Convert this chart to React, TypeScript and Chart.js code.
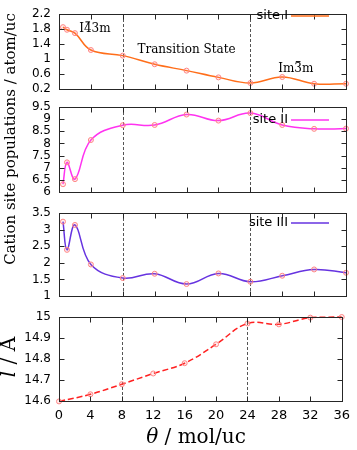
import React, { useEffect, useRef } from "react";
import { Chart, registerables } from "chart.js";

Chart.register(...registerables);

// ---------------- data ----------------
const THETA_SITES = [0.5, 1, 2, 4, 8, 12, 16, 20, 24, 28, 32, 36];
const SITE_I = [1.85, 1.78, 1.69, 1.24, 1.09, 0.86, 0.69, 0.51, 0.36, 0.52, 0.34, 0.34];
const SITE_II = [6.32, 7.22, 6.53, 8.14, 8.75, 8.76, 9.19, 8.94, 9.25, 8.76, 8.6, 8.61];
const SITE_III = [3.24, 2.39, 3.14, 1.95, 1.54, 1.67, 1.36, 1.68, 1.43, 1.61, 1.8, 1.7];
const THETA_CELL = [0, 4, 8, 12, 16, 20, 24, 28, 32, 36];
const CELL_L = [14.598, 14.632, 14.68, 14.731, 14.78, 14.87, 14.969, 14.965, 14.997, 15.0];

const X_TICKS = [0, 4, 8, 12, 16, 20, 24, 28, 32, 36];
const Y_TICKS_I = [0.2, 0.6, 1, 1.4, 1.8, 2.2];
const Y_TICKS_II = [6, 6.5, 7, 7.5, 8, 8.5, 9, 9.5];
const Y_TICKS_III = [1, 1.5, 2, 2.5, 3, 3.5];
const Y_TICKS_L = [14.6, 14.7, 14.8, 14.9, 15];
const PHASE_BOUNDARIES = [8, 24];
// phase labels: [before, barred digit, after]
const PHASE_LABELS: [string, string, string][] = [
  ["I", "4", "3m"],
  ["Transition State", "", ""],
  ["Im", "3", "m"],
];

// ---------------- layout / style ----------------
const W = 357;
const H = 450;
const PLOT_LEFT = 59;
const PLOT_RIGHT = 346;
const SERIF = '"DejaVu Serif", serif';
const SANS = '"DejaVu Sans", sans-serif';
const MARKER = "#ff8585";
const AXIS = "#262626";
// anchors of the phase labels in data units (x, y baseline) – panel I
const PHASE_ANCHORS = [
  [4.5, 1.71],
  [16, 1.16],
  [29.7, 0.65],
];

type PanelCfg = {
  xs: number[];
  ys: number[];
  yTicks: number[];
  label?: string;
  color: string;
  dash: number[];
  top: number;
  bottom: number;
  legendY?: number;
};

const PANELS: PanelCfg[] = [
  { xs: THETA_SITES, ys: SITE_I, yTicks: Y_TICKS_I, label: "site I", color: "#ff6e1a", dash: [], top: 6, bottom: 89, legendY: 16 },
  { xs: THETA_SITES, ys: SITE_II, yTicks: Y_TICKS_II, label: "site II", color: "#ff33f0", dash: [], top: 107, bottom: 192, legendY: 120 },
  { xs: THETA_SITES, ys: SITE_III, yTicks: Y_TICKS_III, label: "site III", color: "#6633e0", dash: [], top: 213, bottom: 296, legendY: 223 },
  { xs: THETA_CELL, ys: CELL_L, yTicks: Y_TICKS_L, color: "#ff2020", dash: [6, 3], top: 317, bottom: 401 },
];

type Part = { text: string; italic?: boolean };

function drawMixed(ctx: CanvasRenderingContext2D, parts: Part[], size: number, x: number, y: number, rotate: boolean) {
  ctx.save();
  ctx.translate(x, y);
  if (rotate) ctx.rotate(-Math.PI / 2);
  ctx.textAlign = "left";
  ctx.textBaseline = "alphabetic";
  ctx.fillStyle = "#000";
  const fontOf = (p: Part) => `${p.italic ? "italic " : ""}${size}px ${SERIF}`;
  const widths = parts.map((p) => {
    ctx.font = fontOf(p);
    return ctx.measureText(p.text).width;
  });
  const total = widths.reduce((a, b) => a + b, 0);
  let cx = -total / 2;
  parts.forEach((p, i) => {
    ctx.font = fontOf(p);
    ctx.fillText(p.text, cx, 0);
    cx += widths[i];
  });
  ctx.restore();
}

function drawPhaseLabel(ctx: CanvasRenderingContext2D, parts: [string, string, string], cx: number, by: number) {
  ctx.save();
  ctx.font = `12px ${SERIF}`;
  ctx.fillStyle = "#000";
  ctx.textAlign = "left";
  ctx.textBaseline = "alphabetic";
  const [a, b, c] = parts;
  const wa = ctx.measureText(a).width;
  const wb = ctx.measureText(b).width;
  const wc = ctx.measureText(c).width;
  let x = cx - (wa + wb + wc) / 2;
  ctx.fillText(a, x, by);
  x += wa;
  if (b) {
    ctx.fillText(b, x, by);
    // overbar (crystallographic bar notation)
    ctx.fillRect(x + 1.5, by - 11, wb - 3, 1);
    x += wb;
  }
  if (c) ctx.fillText(c, x, by);
  ctx.restore();
}

function makePlugin(cfg: PanelCfg, idx: number) {
  return {
    id: "panelDecor" + idx,
    beforeDatasetsDraw(chart: any) {
      const { ctx, chartArea: a, scales } = chart;
      ctx.save();
      ctx.strokeStyle = "#555";
      ctx.lineWidth = 1;
      ctx.setLineDash([3, 2]);
      PHASE_BOUNDARIES.forEach((v) => {
        const px = Math.round(scales.x.getPixelForValue(v)) + 0.5;
        ctx.beginPath();
        ctx.moveTo(px, a.top);
        ctx.lineTo(px, a.bottom);
        ctx.stroke();
      });
      ctx.restore();
    },
    beforeDraw(chart: any) {
      // nothing
    },
    afterDraw(chart: any) {
      const { ctx, chartArea: a, scales } = chart;
      const L = Math.round(a.left) + 0.5;
      const R = Math.round(a.right) + 0.5;
      const T = Math.round(a.top) + 0.5;
      const B = Math.round(a.bottom) + 0.5;
      ctx.save();
      ctx.strokeStyle = AXIS;
      ctx.lineWidth = 1;
      ctx.setLineDash([]);
      ctx.strokeRect(L, T, R - L, B - T);
      const tl = 5;
      ctx.beginPath();
      X_TICKS.forEach((v) => {
        const px = Math.round(scales.x.getPixelForValue(v)) + 0.5;
        ctx.moveTo(px, B);
        ctx.lineTo(px, B - tl);
        ctx.moveTo(px, T);
        ctx.lineTo(px, T + tl);
      });
      cfg.yTicks.forEach((v) => {
        const py = Math.round(scales.y.getPixelForValue(v)) + 0.5;
        ctx.moveTo(L, py);
        ctx.lineTo(L + tl, py);
        ctx.moveTo(R, py);
        ctx.lineTo(R - tl, py);
      });
      ctx.stroke();

      // legend
      if (cfg.label && cfg.legendY !== undefined) {
        ctx.font = `13px ${SANS}`;
        ctx.fillStyle = "#000";
        ctx.textAlign = "right";
        ctx.textBaseline = "middle";
        ctx.fillText(cfg.label, 288, cfg.legendY);
        ctx.strokeStyle = cfg.color;
        ctx.lineWidth = 1.5;
        ctx.beginPath();
        ctx.moveTo(291, cfg.legendY);
        ctx.lineTo(329, cfg.legendY);
        ctx.stroke();
      }

      if (idx === 0) {
        PHASE_LABELS.forEach((p, i) => {
          const [vx, vy] = PHASE_ANCHORS[i];
          drawPhaseLabel(ctx, p, scales.x.getPixelForValue(vx), scales.y.getPixelForValue(vy));
        });
        drawMixed(ctx, [{ text: "Cation site populations / atom/uc" }], 15, 15, 139, true);
      }
      if (idx === 3) {
        drawMixed(ctx, [{ text: "l", italic: true }, { text: " / \u00C5" }], 20, 15, 357, true);
        drawMixed(ctx, [{ text: "\u03B8", italic: true }, { text: " / mol/uc" }], 20, 196, 443, false);
      }
      ctx.restore();
    },
  };
}

function buildConfig(cfg: PanelCfg, idx: number): any {
  const last = idx === PANELS.length - 1;
  const pts = cfg.xs.map((x, i) => ({ x, y: cfg.ys[i] }));
  return {
    type: "line",
    data: {
      datasets: [
        {
          data: pts,
          borderColor: cfg.color,
          borderWidth: 1.5,
          borderDash: cfg.dash,
          pointRadius: 0,
          tension: 0.4,
          fill: false,
          clip: 3,
          order: 2,
        },
        {
          data: pts,
          showLine: false,
          clip: 6,
          pointRadius: 2.5,
          pointBorderWidth: 1,
          pointBorderColor: MARKER,
          pointBackgroundColor: "rgba(255,133,133,0.15)",
          order: 1,
        },
      ],
    },
    options: {
      responsive: false,
      animation: false,
      devicePixelRatio: 1,
      events: [],
      layout: {
        padding: { left: 0, right: W - PLOT_RIGHT, top: cfg.top, bottom: 0 },
      },
      plugins: { legend: { display: false }, tooltip: { enabled: false }, title: { display: false } },
      scales: {
        x: {
          type: "linear",
          min: X_TICKS[0],
          max: X_TICKS[X_TICKS.length - 1],
          display: true,
          afterBuildTicks: (s: any) => {
            s.ticks = X_TICKS.map((v) => ({ value: v }));
          },
          afterFit: (s: any) => {
            s.height = H - cfg.bottom;
          },
          grid: { display: false, drawTicks: false },
          border: { display: false },
          ticks: {
            display: last,
            autoSkip: false,
            maxRotation: 0,
            padding: 7,
            color: "#000",
            font: { family: SANS, size: 13 },
            callback: (v: any) => String(v),
          },
        },
        y: {
          type: "linear",
          min: cfg.yTicks[0],
          max: cfg.yTicks[cfg.yTicks.length - 1],
          afterBuildTicks: (s: any) => {
            s.ticks = cfg.yTicks.map((v) => ({ value: v }));
          },
          afterFit: (s: any) => {
            s.width = PLOT_LEFT;
          },
          grid: { display: false, drawTicks: false },
          border: { display: false },
          ticks: {
            autoSkip: false,
            padding: 8,
            color: "#000",
            font: { family: SANS, size: 12, lineHeight: 1 },
            callback: (v: any) => String(v),
          },
        },
      },
    },
    plugins: [makePlugin(cfg, idx)],
  };
}

function Panel({ cfg, idx }: { cfg: PanelCfg; idx: number }) {
  const ref = useRef<HTMLCanvasElement>(null);
  useEffect(() => {
    const chart = new Chart(ref.current as HTMLCanvasElement, buildConfig(cfg, idx));
    return () => chart.destroy();
  }, [cfg, idx]);
  return (
    <canvas
      ref={ref}
      width={W}
      height={H}
      style={{ position: "absolute", left: 0, top: 0, width: W, height: H }}
    />
  );
}

export default function App() {
  return (
    <div style={{ position: "fixed", left: 0, top: 0, width: W, height: H, background: "#fff", overflow: "hidden" }}>
      {PANELS.map((p, i) => (
        <Panel key={i} cfg={p} idx={i} />
      ))}
    </div>
  );
}
